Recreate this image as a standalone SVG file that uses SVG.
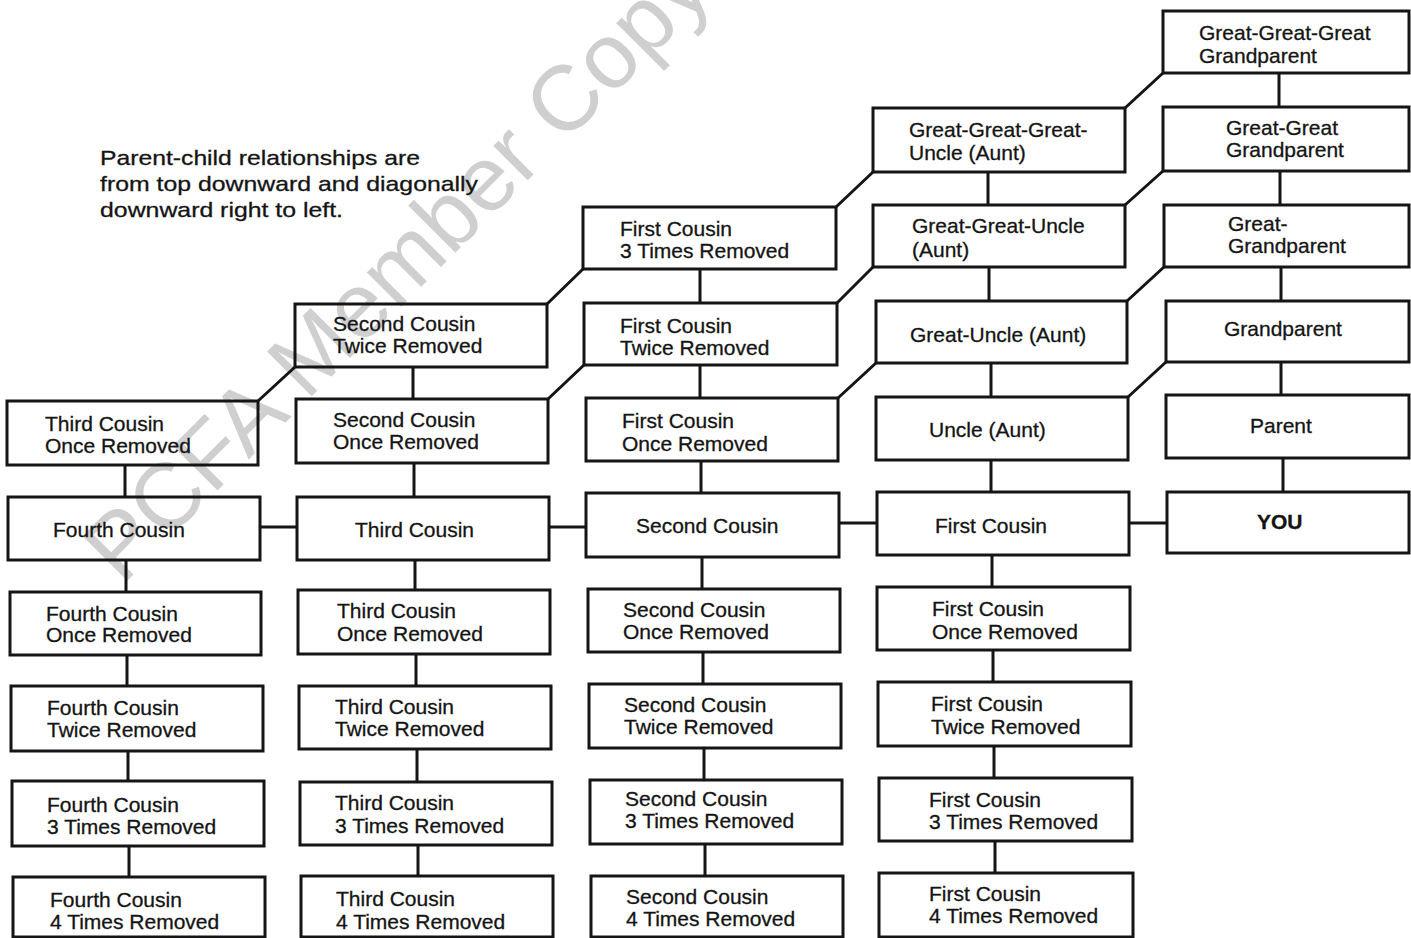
<svg xmlns="http://www.w3.org/2000/svg" width="1411" height="938" viewBox="0 0 1411 938">
<style>
.bx{fill:none;stroke:#151515;stroke-width:3}
.cn{fill:none;stroke:#151515;stroke-width:3}
text{font-family:"Liberation Sans",Arial,sans-serif;font-size:21px;fill:#141414;stroke:#141414;stroke-width:0.3}
.wm{font-size:92px;fill:#cfcfcf;stroke:none}
.note{font-size:21px}
.b{font-weight:bold}
</style>
<rect width="1411" height="938" fill="#fff"/>
<text class="wm" transform="translate(122,586) rotate(-45)">PCFA Member Copy</text>
<g id="note">
<text class="note" x="100" y="165" textLength="320" lengthAdjust="spacingAndGlyphs">Parent-child relationships are</text>
<text class="note" x="100" y="191" textLength="378" lengthAdjust="spacingAndGlyphs">from top downward and diagonally</text>
<text class="note" x="100" y="217" textLength="243" lengthAdjust="spacingAndGlyphs">downward right to left.</text>
</g>
<g id="connectors">
<path class="cn" d="M1279 73V107M1280 171V205M1281 267V301M1281 362V395M1283 458V492"/>
<path class="cn" d="M988 172V205M989 267V301M991 363V397M991 460V492M992 555V587M993 650V682M994 746V778M995 841V873"/>
<path class="cn" d="M700 269V303M700 365V398M701 461V493M702 557V589M703 652V684M704 748V780M705 844V876"/>
<path class="cn" d="M413 367V399M414 463V497M415 560V590M416 654V686M417 749V782M418 845V876"/>
<path class="cn" d="M125 465V497M126 560V592M127 655V686M128 751V781M129 846V877"/>
<path class="cn" d="M260 527H297M549 527H586M839 523H877M1129 523H1167"/>
<path class="cn" d="M1163 73L1125 108M1163 171L1125 205M1164 267L1127 301M1166 362L1128 397"/>
<path class="cn" d="M873 172L836 207M873 267L837 303M876 363L838 398"/>
<path class="cn" d="M583 269L547 304M584 365L548 399"/>
<path class="cn" d="M295 367L258 401"/>
</g>
<g id="n-ggg-gp"><rect class="bx" x="1163" y="11" width="246" height="62"/><text x="1199" y="40">Great-Great-Great</text><text x="1199" y="63">Grandparent</text></g>
<g id="n-gg-gp"><rect class="bx" x="1163" y="107" width="246" height="64"/><text x="1226" y="135">Great-Great</text><text x="1226" y="157">Grandparent</text></g>
<g id="n-g-gp"><rect class="bx" x="1164" y="205" width="245" height="62"/><text x="1228" y="231">Great-</text><text x="1228" y="253">Grandparent</text></g>
<g id="n-gp"><rect class="bx" x="1166" y="301" width="243" height="61"/><text x="1224" y="336">Grandparent</text></g>
<g id="n-parent"><rect class="bx" x="1166" y="395" width="243" height="63"/><text x="1250" y="433">Parent</text></g>
<g id="n-you"><rect class="bx" x="1167" y="492" width="242" height="61"/><text class="b" x="1257" y="529">YOU</text></g>

<g id="n-ggg-uncle"><rect class="bx" x="873" y="108" width="252" height="64"/><text x="909" y="137">Great-Great-Great-</text><text x="909" y="160">Uncle (Aunt)</text></g>
<g id="n-gg-uncle"><rect class="bx" x="873" y="205" width="252" height="62"/><text x="912" y="233">Great-Great-Uncle</text><text x="912" y="257">(Aunt)</text></g>
<g id="n-g-uncle"><rect class="bx" x="876" y="301" width="251" height="62"/><text x="910" y="342">Great-Uncle (Aunt)</text></g>
<g id="n-uncle"><rect class="bx" x="876" y="397" width="252" height="63"/><text x="929" y="437">Uncle (Aunt)</text></g>
<g id="n-1c"><rect class="bx" x="877" y="492" width="252" height="63"/><text x="935" y="533">First Cousin</text></g>
<g id="n-1c1r"><rect class="bx" x="877" y="587" width="253" height="63"/><text x="932" y="616">First Cousin</text><text x="932" y="639">Once Removed</text></g>
<g id="n-1c2r"><rect class="bx" x="878" y="682" width="253" height="64"/><text x="931" y="711">First Cousin</text><text x="931" y="734">Twice Removed</text></g>
<g id="n-1c3r-b"><rect class="bx" x="879" y="778" width="253" height="63"/><text x="929" y="807">First Cousin</text><text x="929" y="829">3 Times Removed</text></g>
<g id="n-1c4r-b"><rect class="bx" x="879" y="873" width="254" height="64"/><text x="929" y="901">First Cousin</text><text x="929" y="923">4 Times Removed</text></g>

<g id="n-1c3r"><rect class="bx" x="583" y="207" width="253" height="62"/><text x="620" y="236">First Cousin</text><text x="620" y="258">3 Times Removed</text></g>
<g id="n-1c2r-u"><rect class="bx" x="584" y="303" width="253" height="62"/><text x="620" y="333">First Cousin</text><text x="620" y="355">Twice Removed</text></g>
<g id="n-1c1r-u"><rect class="bx" x="586" y="398" width="252" height="63"/><text x="622" y="428">First Cousin</text><text x="622" y="451">Once Removed</text></g>
<g id="n-2c"><rect class="bx" x="586" y="493" width="253" height="64"/><text x="636" y="533">Second Cousin</text></g>
<g id="n-2c1r"><rect class="bx" x="588" y="589" width="252" height="63"/><text x="623" y="617">Second Cousin</text><text x="623" y="639">Once Removed</text></g>
<g id="n-2c2r"><rect class="bx" x="589" y="684" width="252" height="64"/><text x="624" y="712">Second Cousin</text><text x="624" y="734">Twice Removed</text></g>
<g id="n-2c3r"><rect class="bx" x="590" y="780" width="252" height="64"/><text x="625" y="806">Second Cousin</text><text x="625" y="828">3 Times Removed</text></g>
<g id="n-2c4r"><rect class="bx" x="591" y="876" width="252" height="61"/><text x="626" y="904">Second Cousin</text><text x="626" y="926">4 Times Removed</text></g>

<g id="n-2c2r-u"><rect class="bx" x="295" y="304" width="252" height="63"/><text x="333" y="331">Second Cousin</text><text x="333" y="353">Twice Removed</text></g>
<g id="n-2c1r-u"><rect class="bx" x="296" y="399" width="252" height="64"/><text x="333" y="427">Second Cousin</text><text x="333" y="449">Once Removed</text></g>
<g id="n-3c"><rect class="bx" x="297" y="497" width="252" height="63"/><text x="355" y="537">Third Cousin</text></g>
<g id="n-3c1r"><rect class="bx" x="298" y="590" width="252" height="64"/><text x="337" y="618">Third Cousin</text><text x="337" y="641">Once Removed</text></g>
<g id="n-3c2r"><rect class="bx" x="299" y="686" width="252" height="63"/><text x="335" y="714">Third Cousin</text><text x="335" y="736">Twice Removed</text></g>
<g id="n-3c3r"><rect class="bx" x="300" y="782" width="252" height="63"/><text x="335" y="810">Third Cousin</text><text x="335" y="833">3 Times Removed</text></g>
<g id="n-3c4r"><rect class="bx" x="301" y="876" width="252" height="61"/><text x="336" y="906">Third Cousin</text><text x="336" y="929">4 Times Removed</text></g>

<g id="n-3c1r-u"><rect class="bx" x="7" y="401" width="251" height="64"/><text x="45" y="431">Third Cousin</text><text x="45" y="453">Once Removed</text></g>
<g id="n-4c"><rect class="bx" x="8" y="497" width="252" height="63"/><text x="53" y="537">Fourth Cousin</text></g>
<g id="n-4c1r"><rect class="bx" x="10" y="592" width="251" height="63"/><text x="46" y="621">Fourth Cousin</text><text x="46" y="642">Once Removed</text></g>
<g id="n-4c2r"><rect class="bx" x="11" y="686" width="252" height="65"/><text x="47" y="715">Fourth Cousin</text><text x="47" y="737">Twice Removed</text></g>
<g id="n-4c3r"><rect class="bx" x="12" y="781" width="252" height="65"/><text x="47" y="812">Fourth Cousin</text><text x="47" y="834">3 Times Removed</text></g>
<g id="n-4c4r"><rect class="bx" x="13" y="877" width="252" height="60"/><text x="50" y="907">Fourth Cousin</text><text x="50" y="929">4 Times Removed</text></g>
</svg>
